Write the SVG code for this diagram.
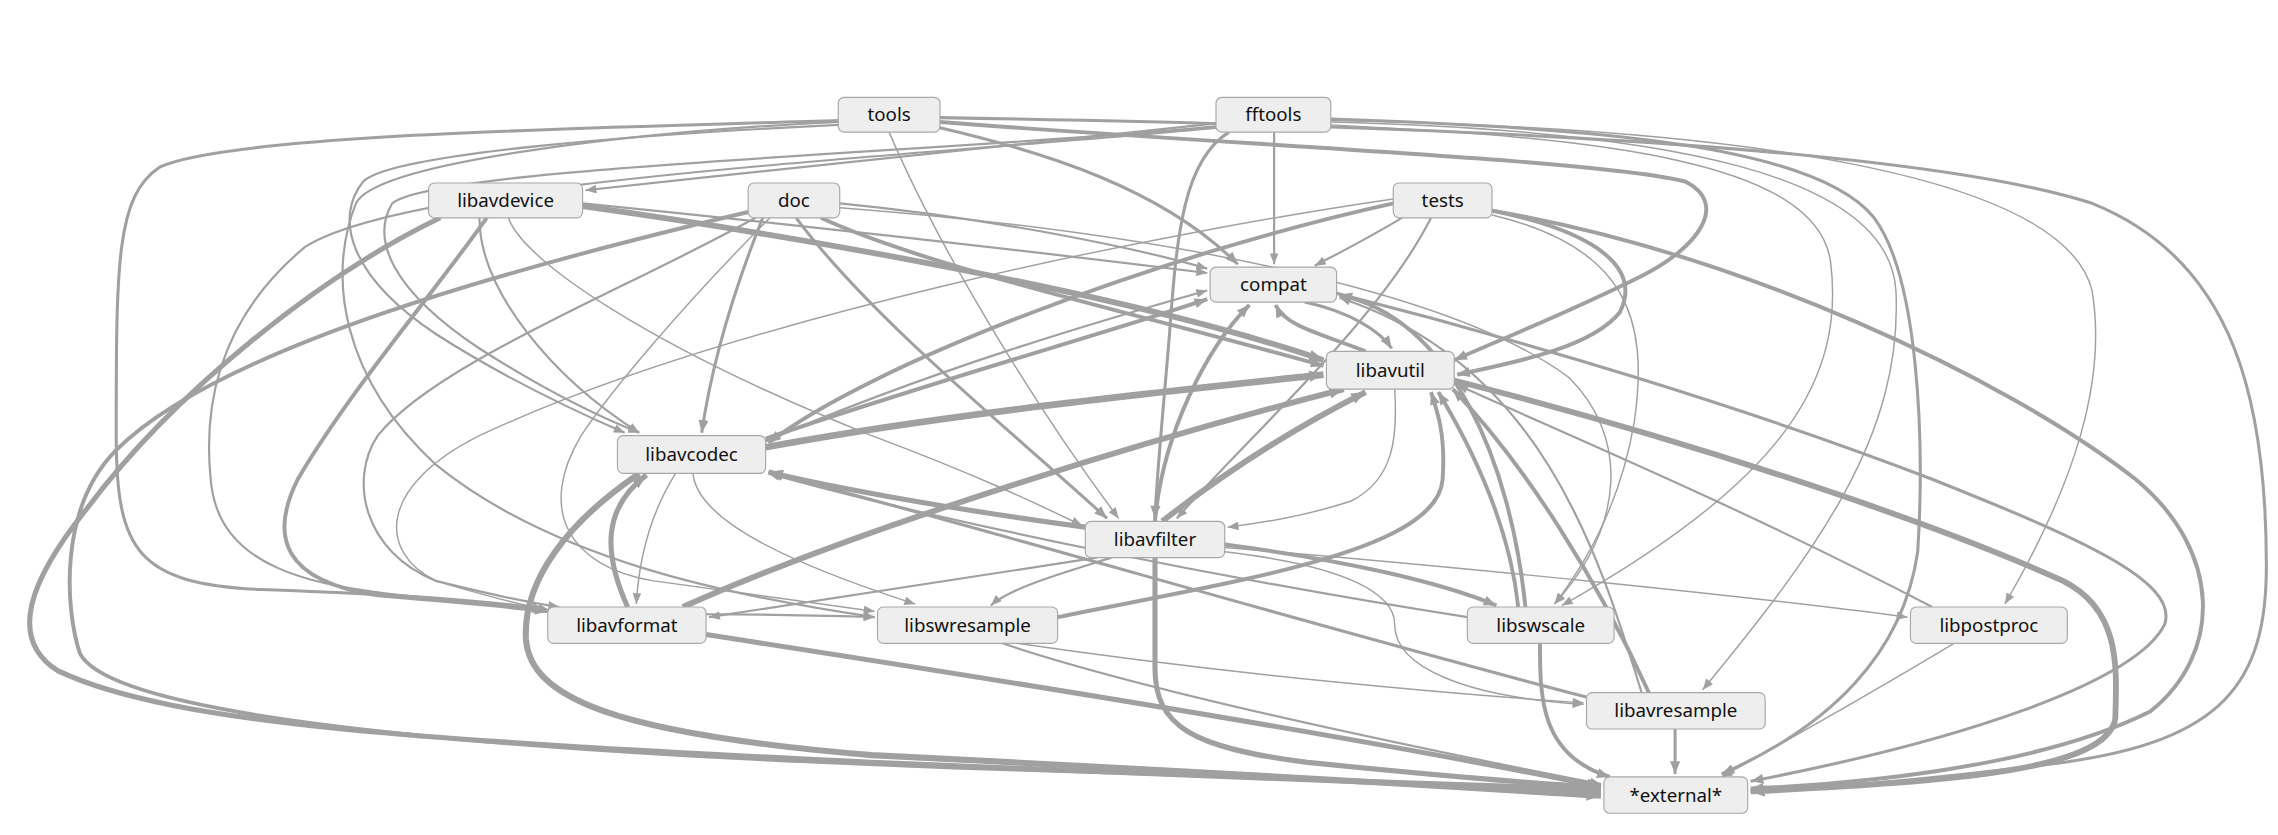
<svg xmlns="http://www.w3.org/2000/svg" width="2278" height="835" viewBox="0 0 2278 835">
<style>
.e{fill:none;stroke:#a0a0a0;stroke-linecap:butt}
.w1{stroke-width:1;marker-end:url(#a1)}
.w2{stroke-width:1.5;marker-end:url(#a1)}
.w3{stroke-width:2.1;marker-end:url(#a2)}
.w4{stroke-width:2.7;marker-end:url(#a2)}
.w5{stroke-width:3.5;marker-end:url(#a3)}
.n rect{fill:#eeeeee;stroke:#a8a8a8;stroke-width:0.8}
.n text{font-family:"Noto Sans","Open Sans",sans-serif;font-size:12.9px;fill:#111;text-anchor:middle}
</style>
<defs>
<marker id="a1" viewBox="0 0 10 8" markerWidth="8" markerHeight="6" refX="10" refY="4" orient="auto" markerUnits="userSpaceOnUse"><path d="M0,0 L10,4 L0,8 z" fill="#a0a0a0"/></marker>
<marker id="a2" viewBox="0 0 10 8" markerWidth="9" markerHeight="7" refX="10" refY="4" orient="auto" markerUnits="userSpaceOnUse"><path d="M0,0 L10,4 L0,8 z" fill="#a0a0a0"/></marker>
<marker id="a3" viewBox="0 0 10 8" markerWidth="10" markerHeight="8" refX="10" refY="4" orient="auto" markerUnits="userSpaceOnUse"><path d="M0,0 L10,4 L0,8 z" fill="#a0a0a0"/></marker>
</defs>
<rect x="0" y="0" width="2278" height="835" fill="#ffffff"/>
<g transform="scale(1.452806,1.452174)">
<g id="connectors">
<path class="e w3" d="M577,83 C420,88 160,92 110,115 C80,135 80,180 80,300 C80,380 95,402 180,406 C290,410 340,414 375,420"/>
<path class="e w2" d="M577,86 C450,92 270,105 250,125 C230,150 240,190 300,230 C350,262 400,285 430,298"/>
<path class="e w1" d="M612,91 C650,180 720,290 770,357"/>
<path class="e w3" d="M647,88 C720,105 800,130 852,182"/>
<path class="e w4" d="M647,84 C850,100 1100,110 1160,125 C1190,140 1170,170 1130,190 C1080,215 1030,235 1001,248"/>
<path class="e w3" d="M647,81 C900,85 1300,95 1440,140 C1540,180 1560,280 1560,390 C1560,470 1530,510 1420,525 C1320,538 1250,543 1205,545"/>
<path class="e w2" d="M577,84 C450,90 260,110 245,140 C225,190 235,260 300,320 C380,385 500,410 602,425"/>
<path class="e w2" d="M837,85 C700,100 550,115 403,131"/>
<path class="e w2" d="M877,91 L877,182"/>
<path class="e w3" d="M846,91 C815,110 810,160 805,230 C800,290 796,330 795,357"/>
<path class="e w3" d="M916,82 C1100,88 1250,100 1290,150 C1320,190 1325,300 1320,380 C1310,450 1260,500 1185,533"/>
<path class="e w1" d="M916,86 C1100,95 1250,110 1260,180 C1270,260 1230,330 1075,417"/>
<path class="e w1" d="M916,84 C1150,90 1300,120 1305,200 C1310,300 1250,380 1172,475"/>
<path class="e w1" d="M916,83 C1200,88 1420,120 1440,200 C1450,260 1430,330 1380,416"/>
<path class="e w2" d="M837,87 C650,105 300,115 270,140 C255,165 270,200 330,240 C380,272 420,290 440,298"/>
<path class="e w2" d="M837,88 C600,110 280,125 210,170 C150,220 140,280 145,330 C150,390 210,405 300,412 C340,415 360,418 375,421"/>
<path class="e w5" style="stroke-width:4" d="M401,142 C600,170 800,210 911,248"/>
<path class="e w2" d="M401,140 C600,160 750,178 831,188"/>
<path class="e w2" d="M330,150 C330,200 380,260 440,298"/>
<path class="e w4" d="M335,150 C300,200 240,270 205,330 C185,370 195,400 260,410 C320,415 355,418 377,421"/>
<path class="e w1" d="M350,150 C360,180 450,240 600,300 C680,330 720,350 745,362"/>
<path class="e w5" d="M303,150 C220,190 120,270 60,350 C20,400 5,440 40,462 C120,500 300,510 600,525 C900,538 1050,543 1102,545"/>
<path class="e w2" d="M578,140 C680,150 780,170 831,185"/>
<path class="e w4" d="M565,150 C640,185 800,220 911,252"/>
<path class="e w3" d="M525,150 C505,200 490,250 483,298"/>
<path class="e w3" d="M548,150 C600,220 700,300 762,357"/>
<path class="e w2" d="M520,150 C430,200 300,250 260,300 C240,330 250,380 300,400 C340,410 365,415 385,418"/>
<path class="e w4" d="M515,146 C350,185 150,240 80,310 C40,350 45,420 55,450 C80,500 400,520 700,530 C900,537 1050,541 1102,543"/>
<path class="e w1" d="M578,143 C800,160 1000,200 1080,260 C1120,300 1120,360 1070,416"/>
<path class="e w1" d="M530,150 C470,210 420,270 400,300 C370,350 390,390 450,400 C520,410 560,415 602,421"/>
<path class="e w2" d="M965,150 C940,165 920,175 905,183"/>
<path class="e w4" d="M959,140 C800,175 600,250 529,305"/>
<path class="e w2" d="M985,150 C950,220 860,300 810,357"/>
<path class="e w4" d="M1027,145 C1100,160 1130,185 1115,215 C1095,240 1040,250 1003,258"/>
<path class="e w1" d="M1027,148 C1120,170 1135,220 1125,290 C1115,350 1090,390 1070,416"/>
<path class="e w4" d="M1027,145 C1200,175 1380,260 1470,330 C1530,380 1530,450 1480,490 C1400,530 1270,540 1205,543"/>
<path class="e w1" d="M959,137 C800,160 500,220 330,300 C260,335 260,380 300,400 C340,412 360,417 378,420"/>
<path class="e w3" d="M898,208 C930,215 950,228 958,240"/>
<path class="e w3" d="M920,202 C1050,235 1200,280 1330,330 C1430,370 1500,400 1490,430 C1470,470 1350,510 1205,538"/>
<path class="e w4" d="M940,242 C910,230 885,225 878,210"/>
<path class="e w1" d="M960,268 C962,300 960,330 930,345 C900,355 870,360 845,363"/>
<path class="e w5" style="stroke-width:4" d="M1001,262 C1150,300 1320,355 1420,400 C1460,420 1457,460 1456,495 C1450,530 1350,538 1205,545"/>
<path class="e w5" style="stroke-width:4.6" d="M527,308 C650,285 800,270 911,258"/>
<path class="e w4" d="M527,302 C650,260 760,230 831,206"/>
<path class="e w2" d="M527,304 C640,255 760,220 831,200"/>
<path class="e w5" style="stroke-width:4.2" d="M440,326 C390,360 360,400 362,440 C365,480 420,505 600,520 C900,535 1050,545 1102,548"/>
<path class="e w1" d="M477,326 C480,360 550,390 630,416"/>
<path class="e w1" d="M465,326 C450,350 440,380 438,416"/>
<path class="e w3" d="M1092,480 C900,430 700,370 529,325"/>
<path class="e w5" style="stroke-width:4" d="M800,359 C850,320 900,290 940,270"/>
<path class="e w4" d="M795,359 C800,300 830,240 860,210"/>
<path class="e w5" d="M747,363 C650,350 570,335 529,325"/>
<path class="e w2" d="M755,384 C650,400 550,415 488,425"/>
<path class="e w2" d="M765,384 C730,395 695,405 682,417"/>
<path class="e w4" d="M843,375 C920,385 990,400 1030,417"/>
<path class="e w1" d="M843,377 C1000,390 1200,410 1313,425"/>
<path class="e w1" d="M843,380 C930,390 960,410 960,430 C960,460 1010,480 1090,485"/>
<path class="e w5" d="M795,384 L795,460 C795,500 820,515 900,525 C1000,535 1060,540 1102,542"/>
<path class="e w5" style="stroke-width:4" d="M470,418 C600,360 800,300 925,268"/>
<path class="e w5" d="M432,418 C415,380 415,350 445,327"/>
<path class="e w2" d="M486,423 C540,423 570,424 602,425"/>
<path class="e w5" d="M486,437 C700,470 950,510 1102,542"/>
<path class="e w4" d="M728,425 C850,400 990,380 993,330 C995,300 990,285 985,270"/>
<path class="e w2" d="M690,443 C800,480 1000,520 1102,540"/>
<path class="e w1" d="M700,443 C850,465 1000,478 1090,484"/>
<path class="e w4" d="M1045,418 C1040,370 1020,320 990,270"/>
<path class="e w4" d="M1050,418 C1040,320 1000,220 922,203"/>
<path class="e w4" d="M1060,443 C1060,480 1060,520 1108,535"/>
<path class="e w2" d="M1010,425 C850,400 650,360 529,326"/>
<path class="e w2" d="M1330,418 C1200,350 1080,300 1003,265"/>
<path class="e w1" d="M1345,443 C1300,470 1230,510 1185,535"/>
<path class="e w4" d="M1135,477 C1100,400 1050,320 1000,268"/>
<path class="e w2" d="M1130,477 C1100,380 1060,250 922,205"/>
<path class="e w3" d="M1153,502 L1153,533"/>
</g>
<g id="node-tools" class="n"><rect x="577" y="67" width="70" height="24" rx="4"/><text x="612" y="83.5">tools</text></g>
<g id="node-fftools" class="n"><rect x="837" y="67" width="79" height="24" rx="4"/><text x="876.5" y="83.5">fftools</text></g>
<g id="node-libavdevice" class="n"><rect x="295" y="126" width="106" height="24" rx="4"/><text x="348" y="142.5">libavdevice</text></g>
<g id="node-doc" class="n"><rect x="515" y="126" width="63" height="24" rx="4"/><text x="546.5" y="142.5">doc</text></g>
<g id="node-tests" class="n"><rect x="959" y="126" width="68" height="24" rx="4"/><text x="993" y="142.5">tests</text></g>
<g id="node-compat" class="n"><rect x="833" y="184" width="87" height="24" rx="4"/><text x="876.5" y="200.5">compat</text></g>
<g id="node-libavutil" class="n"><rect x="913" y="242" width="88" height="26" rx="4"/><text x="957" y="259.5">libavutil</text></g>
<g id="node-libavcodec" class="n"><rect x="425" y="300" width="102" height="26" rx="4"/><text x="476" y="317.5">libavcodec</text></g>
<g id="node-libavfilter" class="n"><rect x="747" y="359" width="96" height="25" rx="4"/><text x="795" y="376">libavfilter</text></g>
<g id="node-libavformat" class="n"><rect x="377" y="418" width="109" height="25" rx="4"/><text x="431.5" y="435">libavformat</text></g>
<g id="node-libswresample" class="n"><rect x="604" y="418" width="124" height="25" rx="4"/><text x="666" y="435">libswresample</text></g>
<g id="node-libswscale" class="n"><rect x="1010" y="418" width="101" height="25" rx="4"/><text x="1060.5" y="435">libswscale</text></g>
<g id="node-libpostproc" class="n"><rect x="1315" y="418" width="108" height="25" rx="4"/><text x="1369" y="435">libpostproc</text></g>
<g id="node-libavresample" class="n"><rect x="1092" y="477" width="123" height="25" rx="4"/><text x="1153.5" y="494">libavresample</text></g>
<g id="node-external" class="n"><rect x="1104" y="535" width="99" height="25" rx="4"/><text x="1153.5" y="552">*external*</text></g>
</g>
</svg>
